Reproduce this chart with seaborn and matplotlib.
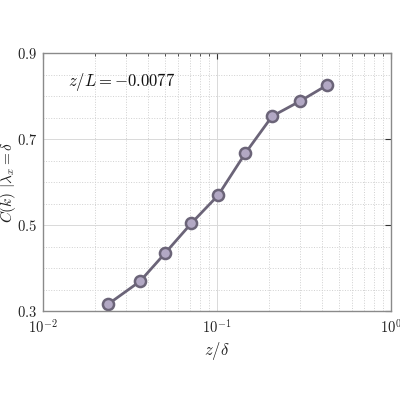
import matplotlib
matplotlib.use("Agg")
import matplotlib.pyplot as plt
import seaborn as sns
import numpy as np
import pandas as pd
from matplotlib.ticker import LogLocator, MultipleLocator, FixedLocator, FuncFormatter, NullFormatter

# data
z_delta = [0.0237, 0.0361, 0.0502, 0.0712, 0.1015, 0.1455, 0.2075, 0.300, 0.428]
C_k = [0.316, 0.369, 0.434, 0.504, 0.569, 0.667, 0.753, 0.788, 0.825]
y_ticks = [0.3, 0.5, 0.7, 0.9]
annotation = r"$z/L = -0.0077$"

sns.set_theme(style="white")
plt.rcParams["mathtext.fontset"] = "cm"
plt.rcParams["font.family"] = ["DejaVu Serif"]

df = pd.DataFrame({"z": z_delta, "C": C_k})

fig = plt.figure(figsize=(4, 4), dpi=100)
ax = fig.add_axes([0.1075, 0.2225, 0.87, 0.645])

line_col = "#6b6478"
face_col = "#b2a8c4"
sns.lineplot(data=df, x="z", y="C", ax=ax, color=line_col, linewidth=2.0,
             marker="o", markersize=8, markerfacecolor=face_col,
             markeredgecolor=line_col, markeredgewidth=1.8)

ax.set_xscale("log")
ax.set_xlim(1e-2, 1e0)
ax.set_ylim(0.3, 0.9)

ax.xaxis.set_major_locator(FixedLocator([1e-2, 1e-1, 1e0]))
ax.xaxis.set_minor_locator(LogLocator(base=10, subs=np.arange(2, 10)))
ax.xaxis.set_minor_formatter(NullFormatter())
ax.xaxis.set_major_formatter(FuncFormatter(lambda v, p: r"$10^{%d}$" % int(round(np.log10(v)))))
ax.yaxis.set_major_locator(FixedLocator(y_ticks))
ax.yaxis.set_minor_locator(MultipleLocator(0.05))
ax.yaxis.set_major_formatter(FuncFormatter(lambda v, p: r"$%.1f$" % v))

ax.grid(True, which="major", color="#d9d9d9", linestyle="-", linewidth=0.7)
ax.grid(True, which="minor", color="#d0d0d0", linestyle=":", linewidth=0.7)
ax.set_axisbelow(True)

for s in ax.spines.values():
    s.set_visible(True)
    s.set_color("#8a8a8a")
    s.set_linewidth(1.0)

ax.tick_params(which="both", direction="in", top=True, right=True, colors="#333333",
               labelsize=10.5, labelcolor="#222222")
ax.tick_params(which="major", length=4, width=0.8)
ax.tick_params(which="minor", length=2.5, width=0.6)
ax.tick_params(axis="y", which="minor", length=0)
ax.tick_params(axis="y", pad=4)
ax.tick_params(axis="x", pad=5)

ax.set_xlabel(r"$z/\delta$", fontsize=12, color="#222222", labelpad=3)
ax.set_ylabel(r"$C(k)\ |\lambda_x=\delta$", fontsize=11, color="#222222")
ax.yaxis.set_label_coords(-0.072, 0.5)

ax.text(0.072, 0.888, annotation, transform=ax.transAxes, fontsize=12,
        ha="left", va="center", color="#111111")

fig.savefig("out.png", dpi=100)
